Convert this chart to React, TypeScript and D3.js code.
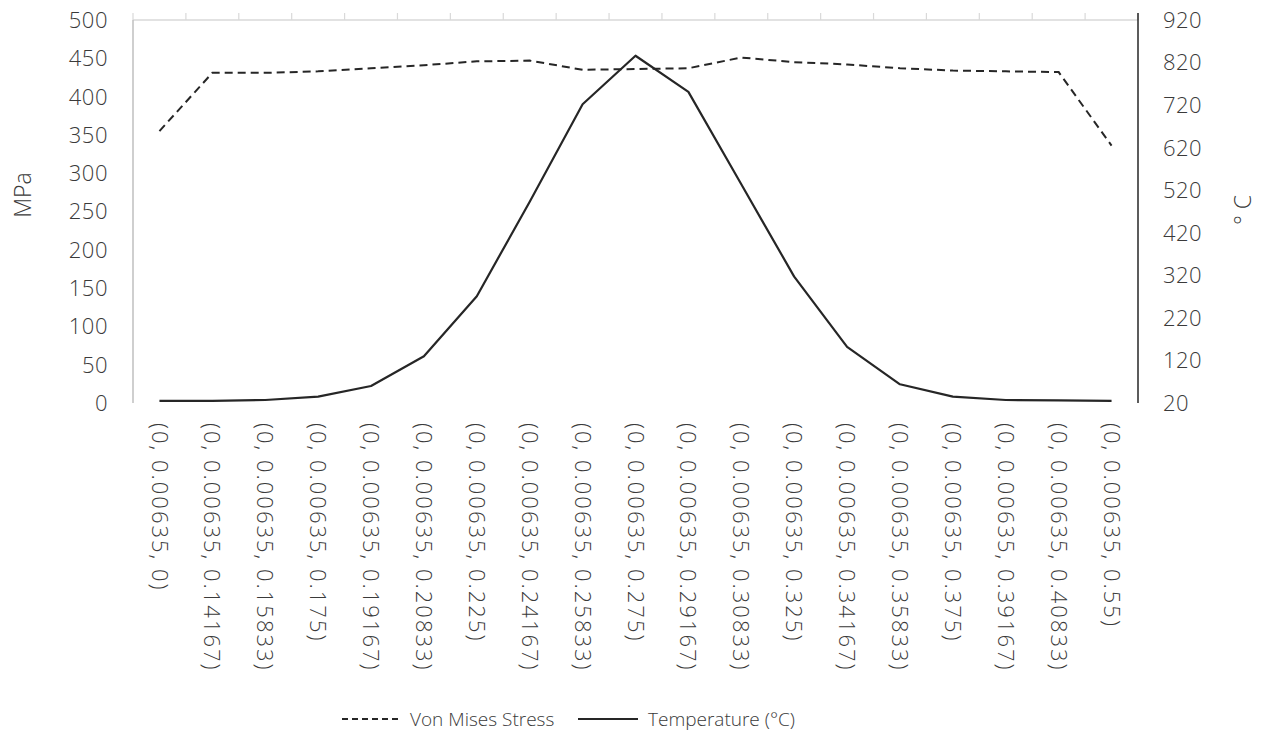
import React from "react";
import * as d3 from "d3";

const categories = [
  "(0, 0.00635, 0)",
  "(0, 0.00635, 0.14167)",
  "(0, 0.00635, 0.15833)",
  "(0, 0.00635, 0.175)",
  "(0, 0.00635, 0.19167)",
  "(0, 0.00635, 0.20833)",
  "(0, 0.00635, 0.225)",
  "(0, 0.00635, 0.24167)",
  "(0, 0.00635, 0.25833)",
  "(0, 0.00635, 0.275)",
  "(0, 0.00635, 0.29167)",
  "(0, 0.00635, 0.30833)",
  "(0, 0.00635, 0.325)",
  "(0, 0.00635, 0.34167)",
  "(0, 0.00635, 0.35833)",
  "(0, 0.00635, 0.375)",
  "(0, 0.00635, 0.39167)",
  "(0, 0.00635, 0.40833)",
  "(0, 0.00635, 0.55)",
];

const vonMisesStress = [355, 431, 431, 433, 437, 441, 446, 447, 435, 436, 437, 451, 445, 442, 437, 434, 433, 432, 336];
const temperature = [25, 25, 27, 35, 60, 130, 271, 493, 722, 836, 751, 534, 317, 152, 64, 35, 27, 26, 25];

const leftTicks = [0, 50, 100, 150, 200, 250, 300, 350, 400, 450, 500];
const rightTicks = [20, 120, 220, 320, 420, 520, 620, 720, 820, 920];

const FONT = "'Open Sans', 'Noto Sans', sans-serif";
const TEXT = "#3a3a3a";

export default function App() {
  const left = 133, right = 1138, top = 20, bottom = 403;
  const x = d3.scaleBand<string>().domain(categories).range([left, right]).padding(0);
  const bw = x.bandwidth();
  const cx = (c: string) => (x(c) as number) + bw / 2;
  const yL = d3.scaleLinear().domain([0, 500]).range([bottom, top]);
  const yR = d3.scaleLinear().domain([20, 920]).range([bottom, top]);

  const stressLine = d3
    .line<number>()
    .x((_, i) => cx(categories[i]))
    .y((d) => yL(d));
  const tempLine = d3
    .line<number>()
    .x((_, i) => cx(categories[i]))
    .y((d) => yR(d));

  const boundaries = d3.range(categories.length + 1).map((k) => left + k * bw);

  return (
    <svg
      width={1272}
      height={741}
      style={{ position: "absolute", left: 0, top: 0, background: "#fff" }}
      fontFamily={FONT}
    >
      {/* top category axis line with ticks */}
      <line x1={left} x2={right} y1={top} y2={top} stroke="#d9d9d9" strokeWidth={1.5} />
      {boundaries.map((bx, i) => (
        <line key={i} x1={bx} x2={bx} y1={top - 7} y2={top} stroke="#d9d9d9" strokeWidth={1.2} />
      ))}
      {/* left axis */}
      <line x1={left} x2={left} y1={top} y2={bottom} stroke="#bfbfbf" strokeWidth={1.5} />
      {/* right axis */}
      <line x1={right} x2={right} y1={top - 7} y2={bottom} stroke="#262626" strokeWidth={1.5} />

      {/* left tick labels */}
      {leftTicks.map((t) => (
        <text key={t} x={108} y={yL(t)} dy="0.36em" textAnchor="end" fontSize={22} fill={TEXT} fontWeight={300} letterSpacing={0.5}>
          {t}
        </text>
      ))}
      {/* right tick labels */}
      {rightTicks.map((t) => (
        <text key={t} x={1163} y={yR(t)} dy="0.36em" textAnchor="start" fontSize={22} fill={TEXT} fontWeight={300} letterSpacing={0.5}>
          {t}
        </text>
      ))}

      {/* axis titles */}
      <text transform="translate(23,195) rotate(-90)" textAnchor="middle" dy="0.36em" fontSize={23} fill={TEXT} fontWeight={300}>
        MPa
      </text>
      <text transform="translate(1243,210) rotate(-90)" textAnchor="middle" dy="0.36em" fontSize={23} fill={TEXT} fontWeight={300}>
        ° C
      </text>

      {/* category labels */}
      {categories.map((c) => (
        <text
          key={c}
          transform={`translate(${cx(c)},423) rotate(90)`}
          dy="0.36em"
          textAnchor="start"
          fontSize={22}
          fill={TEXT}
          fontWeight={300}
          letterSpacing={2}
        >
          {c}
        </text>
      ))}

      {/* series */}
      <path d={stressLine(vonMisesStress) || ""} fill="none" stroke="#262626" strokeWidth={2} strokeDasharray="8,5" />
      <path d={tempLine(temperature) || ""} fill="none" stroke="#262626" strokeWidth={2.2} strokeLinejoin="round" />

      {/* legend */}
      <line x1={342} x2={402} y1={719} y2={719} stroke="#262626" strokeWidth={2} strokeDasharray="6,4" />
      <text x={410} y={719} dy="0.36em" fontSize={19} fill={TEXT} fontWeight={300}>
        Von Mises Stress
      </text>
      <line x1={578} x2={638} y1={719} y2={719} stroke="#262626" strokeWidth={2.2} />
      <text x={648} y={719} dy="0.36em" fontSize={19} fill={TEXT} fontWeight={300}>
        Temperature (°C)
      </text>
    </svg>
  );
}
